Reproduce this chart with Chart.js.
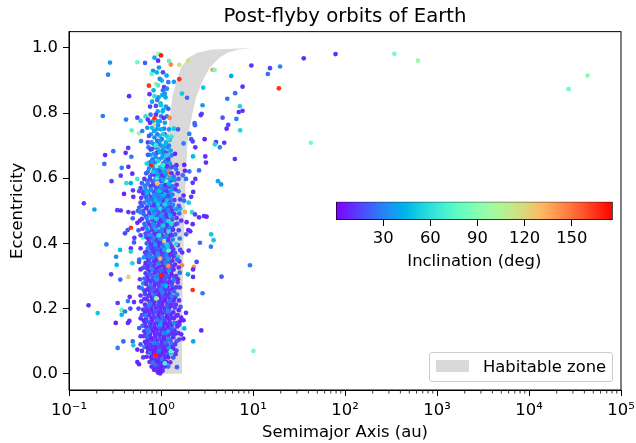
<!DOCTYPE html>
<html>
<head>
<meta charset="utf-8">
<style>
  body { margin: 0; background: #fff; font-family: "DejaVu Sans", sans-serif; color: #000; }
  #wrap { position: relative; width: 636px; height: 443px; overflow: hidden; }
  #orbits { position: absolute; left: 0; top: 0; }
  #cbar { position: absolute; left: 326px; top: 195px; }
  #legend { position: absolute; left: 429px; top: 352px; width: 182px; height: 28px; border: 1px solid #ccc; border-radius: 3px; background: rgba(255,255,255,0.8); }
  #legend i { position: absolute; left: 6px; top: 7px; width: 33px; height: 12px; background: #d9d9d9; }
  #legend span { position: absolute; left: 53px; top: 5px; font-size: 16.4px; line-height: 18px; white-space: nowrap; }
</style>
</head>
<body>
<div id="wrap">
  <canvas id="orbits" width="636" height="443"></canvas>
  <canvas id="cbar" width="300" height="77"></canvas>
  <div id="legend"><i></i><span>Habitable zone</span></div>
</div>
<script src="https://cdn.jsdelivr.net/npm/chart.js@4/dist/chart.umd.min.js"></script>
<script>
// Tick labels
const xTicks = [0.1, 1, 10, 100, 1000, 10000, 100000];
const xTickLabels = ["10⁻¹", "10⁰", "10¹", "10²", "10³", "10⁴", "10⁵"];
const yTicks = [0, 0.2, 0.4, 0.6, 0.8, 1.0];
const cbarTicks = [30, 60, 90, 120, 150];

// Habitable zone edges
const hzEcc = [0, 0.2, 0.4, 0.6, 0.7, 0.75, 0.8, 0.85, 0.9, 0.94, 0.97, 0.985, 0.995, 1.0];
const hzOuter = [1.69, 1.70, 1.76, 1.86, 1.93, 2.03, 2.2, 2.42, 2.85, 3.4, 4.3, 5.3, 7, 10];
const hzInner = [0.97, 0.98, 1.0, 1.05, 1.12, 1.2, 1.26, 1.33, 1.48, 1.65, 1.98, 2.5, 3.6, 10];

// Orbits as [semimajor axis, eccentricity, inclination]
const farOrbits = [[15.3,.938,15],[14.5,.92,25],[19.7,.943,32],[19.1,.876,165],[35.6,.968,10],[78.9,.981,10],[344,.982,85],[622,.961,100],[42.6,.709,85],[26900,.874,80],[43300,.915,88],[10.1,.07,85],[9.27,.333,30]];

const upperOutliers = [[.279,.955,35],[.266,.918,30],[.553,.956,80],[.67,.954,22],[.94,.982,100],[1,.977,170],[.93,.961,10],[1.22,.96,75],[1.28,.949,145],[1.58,.948,115],[1.98,.96,115],[3.64,.933,140],[3.83,.932,85],[9.6,.946,10],[5.8,.914,40],[7.7,.881,10],[6.4,.861,25],[5.25,.844,25],[2.88,.878,50],[1.58,.904,165],[1.38,.896,38],[1.69,.86,50],[1.92,.847,25],[.45,.852,10],[2.83,.824,35],[7.2,.821,55],[7.7,.807,12],[7,.803,12],[6.6,.782,32],[4.67,.786,20],[2.77,.798,20],[2.7,.794,10],[.233,.791,28],[.417,.78,28],[.553,.786,15],[.6,.776,55],[.48,.747,75],[.575,.738,110],[.626,.745,30],[2.32,.769,25],[2.34,.763,25],[5.38,.764,15],[5.17,.752,8],[7.25,.747,55],[1.53,.75,20],[2.03,.736,30],[2.13,.72,20],[2.21,.713,15],[1.76,.707,30],[2.36,.695,10],[2.98,.72,8],[3.96,.711,8],[3.86,.704,55],[4.87,.709,12],[4.36,.695,30],[.607,.714,30],[.44,.693,15],[.303,.683,25],[.413,.678,10],[.247,.671,8]];

const midLeftOutliers = [[.476,.666,28],[.242,.644,25],[.374,.632,30],[.442,.635,10],[.488,.614,10],[.365,.608,15],[.29,.591,15],[.42,.585,60],[.553,.598,65],[.47,.585,42],[.396,.552,8],[.496,.563,15],[.5,.543,10],[.145,.523,15],[.189,.504,40],[.335,.502,15],[.365,.501,10],[.442,.496,12],[.5,.494,10],[.493,.477,25],[.553,.463,10],[.47,.448,165],[.434,.441,20],[.406,.431,15],[.513,.417,12],[.509,.403,20],[.632,.418,75],[.255,.397,28],[.359,.38,48],[.47,.385,10],[.47,.375,55],[.325,.359,32],[.488,.339,55],[.33,.334,45],[.577,.343,15],[.287,.305,12]];

const midRightOutliers = [[2.23,.667,45],[3.03,.667,10],[3.08,.648,10],[6.35,.659,10],[1.79,.641,8],[2.03,.621,25],[2.59,.624,25],[1.82,.623,8],[1.72,.609,25],[1.87,.598,25],[2.36,.598,12],[2.21,.586,12],[4.16,.591,40],[4.5,.581,35],[2.24,.558,10],[1.76,.547,10],[2.13,.543,12],[1.78,.531,25],[2,.525,52],[1.61,.507,45],[1.82,.497,135],[1.58,.492,25],[2.17,.496,58],[2.34,.489,15],[2.59,.48,10],[2.93,.484,10],[3.13,.482,8],[1.9,.465,10],[2.21,.459,10],[1.5,.461,20],[1.98,.441,10],[2.08,.437,10],[1.88,.428,20],[3.51,.428,50],[3.73,.41,50],[2.65,.402,25],[3.49,.39,30],[2,.378,12],[1.7,.372,10],[1.53,.358,55],[2.44,.343,15],[2.28,.328,140],[1.69,.333,145],[2.23,.32,10],[1.96,.305,40]];

const lowOutliers = [[.442,.297,120],[.361,.289,25],[2.21,.257,165],[2.83,.247,28],[4.55,.298,20],[2.23,.297,10],[.163,.21,10],[.205,.186,50],[.338,.217,12],[.457,.236,10],[.437,.223,30],[.374,.195,75],[.374,.181,45],[.406,.191,28],[.464,.2,18],[.509,.22,10],[.322,.156,8],[.437,.156,12],[.453,.162,10],[.39,.099,22],[.338,.079,30],[.493,.099,25],[.5,.087,52],[.553,.074,8],[.553,.036,8],[.577,.029,8],[2.74,.133,8],[2.24,.099,40],[1.49,.02,22],[1.87,.187,10],[1.76,.164,10],[1.79,.139,45],[1.66,.121,10],[1.75,.108,10],[1.47,.071,15]];

const bandTop = [[.82,.93,35],[.9,.925,45],[.79,.92,75],[.88,.89,110],[.97,.905,30],[1.05,.925,15],[1.15,.915,40],[1.2,.895,28],[1.08,.88,12],[1.16,.875,30],[.74,.884,165],[.93,.885,70],[1.05,.87,25],[.75,.858,12],[.85,.852,60],[.94,.848,38],[1.03,.855,45],[1.12,.848,42],[.99,.83,48],[1.13,.82,40],[.76,.82,15],[.88,.822,14],[1,.824,50],[1.2,.813,22],[.88,.795,12],[1,.79,30],[.68,.79,60],[.72,.78,12],[1.24,.785,145],[.85,.784,165],[1.07,.785,10],[.76,.77,10],[.86,.765,118],[.93,.762,35],[1,.75,45],[.84,.745,42],[1.38,.752,50],[1.1,.77,38],[.74,.73,20],[.72,.71,15],[.91,.735,28],[1.05,.735,55],[1.16,.728,55],[1.3,.728,62],[1.02,.72,25],[.79,.71,35],[.95,.705,30],[1.13,.71,45],[.88,.695,25],[1.22,.7,28],[1.06,.692,38],[.77,.688,14],[.97,.68,42],[.84,.675,35],[1.15,.678,20]];

const band6070 = [[.72,.672,22],[.88,.665,35],[1.02,.663,40],[1.2,.66,12],[1.3,.67,30],[1.42,.675,8],[.8,.655,25],[.93,.652,55],[1.1,.65,30],[1.25,.645,40],[.7,.645,55],[.78,.64,170],[.9,.638,80],[1,.635,45],[1.16,.637,12],[1.33,.635,18],[1.47,.64,10],[.74,.63,35],[.84,.625,30],[.97,.622,20],[1.08,.625,50],[1.2,.622,150],[1.3,.615,10],[1.46,.628,25],[.69,.615,20],[.8,.612,15],[.92,.61,40],[1.03,.608,12],[1.13,.612,35],[1.24,.605,148],[1.38,.605,28],[1.52,.615,10]];

const band5060 = [[.66,.598,12],[.76,.597,18],[.86,.595,30],[.96,.598,25],[1.06,.594,40],[1.16,.59,80],[1.27,.592,20],[1.4,.594,35],[1.55,.598,22],[.62,.585,25],[.72,.583,28],[.82,.58,14],[.91,.585,130],[1,.577,35],[1.11,.579,10],[1.22,.582,45],[1.34,.575,28],[1.48,.58,10],[.6,.57,15],[.68,.568,35],[.78,.565,30],[.88,.57,20],[.95,.562,42],[1.05,.565,25],[1.15,.56,12],[1.28,.563,40],[1.43,.566,12],[.64,.553,10],[.73,.551,22],[.84,.548,35],[.92,.552,10],[1.01,.546,38],[1.1,.55,45],[1.2,.545,15],[1.33,.55,30],[.61,.54,12],[.7,.537,12],[.8,.535,25],[.89,.53,45],[.97,.536,30],[1.07,.53,12],[1.17,.532,48],[1.26,.528,25],[1.4,.533,14],[.66,.525,28],[.75,.522,35],[.85,.518,12],[.93,.52,50],[1.03,.515,18],[1.13,.518,38],[1.23,.512,10],[1.35,.518,30],[.58,.51,22],[.69,.508,10],[.79,.505,40],[.88,.503,28],[.98,.507,55],[1.08,.5,15]];

const band4050 = [[1.2,.503,30],[1.32,.5,12],[1.46,.505,35],[.6,.495,30],[.65,.49,25],[.75,.492,12],[.84,.489,40],[.94,.492,20],[1.03,.485,35],[1.14,.488,12],[1.26,.484,45],[1.4,.49,10],[.62,.475,12],[.7,.477,30],[.8,.472,18],[.89,.475,50],[.99,.47,10],[1.09,.472,28],[1.2,.468,55],[1.33,.473,20],[1.48,.478,12],[.66,.46,25],[.75,.458,10],[.84,.455,35],[.94,.459,15],[1.04,.453,38],[1.15,.456,10],[1.27,.452,28],[1.42,.458,15],[.63,.445,10],[.71,.443,32],[.8,.44,14],[.89,.443,42],[.98,.438,22],[1.09,.44,12],[1.21,.436,62],[1.35,.442,12],[.68,.43,18],[.76,.426,35],[.85,.428,10],[.94,.423,48],[1.03,.425,15],[1.14,.421,30],[1.27,.425,12],[1.43,.428,25],[.72,.415,10],[.81,.412,28],[.9,.41,14],[.99,.414,35],[1.09,.407,120],[1.2,.41,12],[1.34,.412,30],[.7,.4,22],[.78,.397,12],[.87,.396,40],[.96,.4,10],[1.05,.393,25],[1.16,.396,55],[1.28,.39,12],[1.46,.398,58]];

const band3040 = [[.72,.385,30],[.81,.382,12],[.9,.385,22],[.99,.378,10],[1.09,.38,42],[1.21,.377,75],[1.36,.382,12],[.67,.372,14],[.76,.368,25],[.85,.37,10],[.94,.365,38],[1.03,.367,14],[1.14,.363,30],[1.27,.367,10],[1.42,.37,20],[.65,.357,35],[.72,.353,12],[.8,.355,28],[.89,.35,10],[.98,.353,135],[1.08,.348,18],[1.2,.352,40],[1.33,.347,12],[1.5,.35,25],[.68,.34,10],[.76,.338,20],[.85,.335,12],[.94,.338,32],[1.04,.332,10],[1.15,.335,25],[1.28,.33,15],[1.42,.335,10],[.64,.325,18],[.71,.322,12],[.8,.32,30],[.9,.323,10],[.99,.318,22],[1.1,.32,12],[1.22,.316,40],[1.37,.32,10],[1.56,.326,10],[.68,.308,12],[.76,.305,22],[.85,.308,10],[.95,.303,28],[1.05,.305,12],[1.17,.3,20],[1.3,.305,8],[1.46,.3,12]];

const band2030 = [[.66,.292,22],[.73,.29,10],[.81,.287,15],[.9,.29,35],[1,.285,10],[1.11,.288,20],[1.24,.283,12],[1.38,.288,30],[1.53,.29,10],[.64,.277,35],[.69,.275,12],[.77,.272,25],[.86,.274,10],[.95,.27,14],[1.05,.272,28],[1.17,.268,10],[1.31,.272,18],[1.46,.265,12],[.62,.262,28],[.71,.258,10],[.8,.26,20],[.9,.255,12],[1,.258,30],[1.11,.253,10],[1.24,.256,14],[1.39,.252,22],[.67,.245,14],[.75,.243,12],[.84,.24,28],[.94,.243,8],[1.05,.238,18],[1.17,.241,10],[1.31,.238,30],[1.5,.243,30],[.7,.228,12],[.79,.225,10],[.88,.228,20],[.98,.223,12],[1.1,.226,8],[1.23,.222,25],[1.38,.226,10],[.61,.222,12],[.67,.212,10],[.74,.21,30],[.83,.213,8],[.93,.208,15],[1.03,.21,10],[1.15,.206,22],[1.29,.21,10],[1.45,.212,12]];

const band1020 = [[.64,.197,12],[.71,.194,10],[.79,.197,8],[.88,.192,20],[.98,.195,10],[1.09,.19,14],[1.22,.193,30],[1.36,.188,10],[1.56,.195,8],[.62,.18,18],[.68,.178,30],[.75,.18,8],[.84,.175,14],[.94,.178,10],[1.04,.173,24],[1.16,.176,8],[1.3,.172,12],[1.47,.178,10],[1.66,.172,8],[.65,.163,8],[.72,.16,22],[.8,.162,10],[.9,.158,12],[1,.16,28],[1.11,.156,8],[1.24,.159,10],[1.39,.155,30],[1.6,.16,8],[.63,.147,25],[.69,.144,10],[.77,.146,14],[.86,.141,8],[.96,.144,20],[1.07,.14,10],[1.19,.143,8],[1.33,.139,22],[1.5,.145,10],[.66,.13,10],[.73,.127,30],[.82,.13,8],[.92,.125,12],[1.02,.128,10],[1.14,.124,25],[1.27,.127,8],[1.43,.123,12],[.64,.115,12],[.7,.113,22],[.78,.11,8],[.87,.113,10],[.97,.108,18],[1.08,.111,8],[1.21,.107,30],[1.36,.112,10]];

const bandBottom = [[.67,.098,8],[.74,.095,14],[.83,.098,8],[.92,.093,22],[1.03,.096,10],[1.15,.091,8],[1.29,.095,30],[1.42,.09,12],[.66,.082,30],[.71,.08,8],[.79,.083,12],[.88,.078,8],[.98,.081,14],[1.09,.076,10],[1.22,.08,35],[1.36,.077,8],[.72,.066,10],[.76,.064,25],[.84,.067,8],[.94,.062,12],[1.04,.065,8],[1.16,.06,18],[1.28,.064,50],[.7,.052,10],[.78,.05,8],[.87,.048,14],[.97,.051,8],[1.08,.046,10],[1.2,.05,8],[.75,.036,12],[.82,.034,30],[.9,.037,8],[1,.032,10],[1.14,.036,8],[.79,.022,8],[.86,.02,10],[.93,.024,14],[1.02,.019,8],[1.1,.022,10],[.84,.012,8],[.9,.01,12],[.96,.014,8],[1.04,.009,10],[.93,.003,8],[.98,.001,10],[.97,.006,6]];

// Second pass through the crowded column, filling between the dots above
const fillUpper = [[.77,.795,28],[.92,.805,38],[1.04,.805,45],[.81,.775,42],[.97,.775,35],[1.16,.79,30],[.71,.755,35],[.8,.755,48],[.9,.75,40],[1.08,.752,28],[1.22,.75,35],[.78,.735,40],[.85,.725,30],[.97,.73,52],[1.1,.735,18],[1.24,.718,42],[.73,.695,30],[.83,.705,45],[.91,.715,22],[1,.7,35],[1.09,.7,48],[1.18,.695,32],[.8,.69,18],[.93,.688,50],[1.01,.683,30],[1.1,.68,25],[1.27,.685,40],[.76,.672,40],[.9,.678,15],[1.05,.672,35],[.82,.66,42],[.96,.658,30],[1.14,.66,38],[.75,.648,28],[.86,.648,20],[1.05,.645,25],[1.21,.65,32],[.82,.635,38],[.94,.63,28],[1.12,.628,18],[1.26,.632,30],[.72,.62,30],[.88,.622,45],[1.02,.62,32],[1.16,.618,42],[.76,.605,25],[.87,.608,12],[.98,.61,30],[1.09,.605,22],[1.31,.6,38]];

const fillMid = [[.71,.592,30],[.81,.59,22],[.91,.59,35],[1.01,.59,15],[1.11,.592,48],[1.21,.595,28],[.67,.577,28],[.77,.575,12],[.86,.577,38],[.96,.572,18],[1.06,.575,42],[1.17,.572,22],[1.28,.574,12],[.64,.56,22],[.73,.56,40],[.83,.558,18],[.91,.56,32],[1,.557,12],[1.1,.56,35],[1.22,.555,30],[.68,.545,28],[.78,.543,14],[.88,.54,40],[.95,.544,22],[1.05,.54,30],[1.15,.54,18],[1.27,.54,38],[.73,.53,18],[.83,.525,30],[.92,.528,14],[1.01,.527,45],[1.11,.525,22],[1.21,.522,35],[.62,.515,18],[.71,.514,25],[.8,.513,14],[.89,.51,35],[.98,.516,12],[1.07,.51,32],[1.18,.508,22],[1.29,.51,12],[.64,.5,15],[.74,.498,28],[.84,.498,18],[.93,.5,12],[1.02,.497,32],[1.12,.498,20],[1.26,.495,35],[.69,.483,14],[.79,.482,28],[.89,.483,12],[.98,.48,30],[1.08,.48,18],[1.19,.48,12],[1.32,.485,28],[.72,.467,18],[.84,.465,10],[.94,.467,28],[1.04,.465,12],[1.13,.463,35],[1.23,.46,14],[.68,.452,30],[.79,.45,20],[.89,.45,12],[.99,.452,32],[1.09,.448,15],[1.2,.447,25],[1.31,.45,10],[.73,.435,10],[.84,.436,25],[.93,.433,12],[1.03,.437,30],[1.15,.433,16],[1.25,.435,10],[.69,.42,25],[.78,.418,12],[.88,.42,30],[.97,.42,14],[1.08,.418,22],[1.2,.42,10],[1.33,.425,18],[.74,.405,14],[.84,.403,28],[.93,.404,12],[1.02,.405,20],[1.13,.403,10],[1.26,.4,24],[.75,.388,10],[.84,.39,18],[.94,.39,12],[1.03,.386,30],[1.14,.388,10],[1.31,.39,16]];

const fillLow = [[.7,.375,12],[.79,.376,22],[.88,.377,12],[.97,.372,16],[1.08,.372,22],[1.2,.37,12],[1.34,.373,10],[.69,.362,20],[.77,.36,12],[.87,.36,25],[.98,.36,10],[1.09,.357,20],[1.22,.358,14],[1.37,.36,10],[.74,.345,14],[.84,.345,10],[.93,.345,24],[1.03,.343,12],[1.14,.344,10],[1.26,.342,20],[.67,.33,25],[.73,.33,12],[.82,.328,18],[.95,.328,10],[1.09,.328,15],[1.21,.326,10],[1.34,.328,20],[.75,.315,10],[.85,.316,16],[.94,.313,12],[1.05,.314,24],[1.15,.312,10],[1.29,.315,12],[.71,.298,10],[.81,.297,20],[.9,.298,12],[1,.296,8],[1.11,.296,18],[1.23,.295,10],[1.4,.296,14],[.69,.282,16],[.77,.282,10],[.85,.282,22],[.95,.28,12],[1.06,.28,8],[1.18,.278,14],[1.32,.28,10],[.74,.265,16],[.84,.265,12],[.95,.262,20],[1.06,.262,10],[1.19,.262,22],[1.33,.26,8],[.66,.255,12],[.76,.252,24],[.85,.25,10],[.97,.25,14],[1.1,.247,8],[1.24,.246,12],[.72,.237,20],[.8,.235,8],[.89,.236,12],[1,.235,10],[1.11,.233,16],[1.24,.232,10],[1.42,.235,12],[.66,.23,12],[.75,.22,16],[.84,.22,10],[.94,.218,14],[1.04,.22,8],[1.17,.215,12],[1.33,.218,18],[.7,.204,16],[.78,.204,10],[.88,.202,8],[.98,.205,14],[1.09,.201,10],[1.23,.202,8],[1.41,.203,14],[.67,.188,10],[.75,.188,16],[.83,.187,10],[.93,.186,8],[1.03,.185,12],[1.15,.186,8],[1.28,.183,12],[.69,.17,12],[.79,.17,8],[.89,.168,16],[.99,.17,8],[1.1,.167,14],[1.23,.168,8],[1.38,.17,10],[.67,.155,12],[.76,.153,8],[.85,.152,12],[.95,.152,8],[1.05,.15,10],[1.17,.151,14],[1.31,.15,8],[1.46,.155,12]];

const fillBottom = [[.71,.137,8],[.8,.137,12],[.9,.135,8],[1,.136,14],[1.12,.133,8],[1.25,.135,10],[1.4,.133,8],[.68,.122,14],[.76,.12,8],[.86,.12,10],[.97,.118,8],[1.08,.119,12],[1.2,.117,8],[1.34,.119,14],[.72,.103,8],[.81,.104,12],[.91,.102,8],[1.01,.104,10],[1.12,.101,8],[1.26,.103,12],[.69,.088,12],[.77,.088,8],[.86,.087,10],[.95,.086,8],[1.05,.085,12],[1.17,.085,8],[1.3,.083,10],[.74,.073,8],[.82,.073,10],[.91,.071,8],[1.01,.072,14],[1.12,.07,8],[1.23,.071,10],[.8,.058,10],[.89,.058,8],[.99,.058,12],[1.1,.055,8],[.84,.041,12],[.94,.042,8],[1.05,.04,10],[.8,.042,8],[.89,.028,10],[.97,.027,8],[1.06,.028,12],[.95,.018,10],[1,.012,8]];

// Loose dots along both sides of the column
const bandEdges = [[.58,.56,18],[.6,.525,14],[.56,.5,25],[.59,.47,10],[.57,.44,20],[.6,.425,16],[.6,.385,12],[.58,.35,22],[.6,.32,10],[.59,.29,14],[.58,.265,20],[.6,.24,12],[.57,.2,16],[.6,.17,10],[.58,.14,22],[.6,.115,12],[.6,.09,18],[.62,.07,10],[.64,.05,14],[1.55,.56,30],[1.62,.535,14],[1.56,.515,22],[1.66,.47,10],[1.56,.44,14],[1.6,.415,28],[1.52,.395,12],[1.62,.38,18],[1.58,.345,10],[1.6,.31,24],[1.52,.28,12],[1.6,.265,16],[1.57,.225,10],[1.63,.205,20],[1.52,.18,12],[1.58,.15,18],[1.54,.125,10],[1.58,.105,14],[1.48,.1,22],[1.44,.06,12],[1.36,.05,20],[1.26,.035,10],[1.2,.022,25]];

// Bluer dots scattered over the column, drawn after the rest
const bandBlues = [[.85,.97,40],[.95,.94,35],[1.02,.9,42],[.83,.87,45],[1.1,.86,35],[.91,.84,30],[.8,.835,40],[1.06,.81,45],[.92,.775,42],[.98,.715,38],[.8,.65,35],[1.1,.62,40],[.9,.55,32],[.72,.535,30],[1.18,.52,35],[.82,.46,32],[1.02,.44,30],[.92,.37,30],[.74,.36,32],[1.12,.34,30],[.87,.3,28],[1.04,.25,28],[.77,.215,30],[1.18,.19,28],[.91,.165,28],[.72,.135,28],[1.06,.125,30],[.84,.095,28],[1.12,.095,26],[.95,.07,26],[.86,.028,24],[1.02,.045,26]];

const bandAccents = [[.88,.057,170],[1.1,.032,70],[1,.303,170],[.89,.231,100],[1.2,.33,145],[1.28,.069,75],[.95,.425,60],[1.1,.52,55],[.9,.6,60],[1.05,.64,65],[.88,.7,65],[1.06,.455,52],[1.18,.39,50],[1.13,.27,45],[.98,.15,40],[1.2,.13,42],[.82,.62,50],[1.15,.67,55],[.96,.56,48],[1.25,.6,45],[.79,.48,50],[1.3,.46,58],[.7,.555,45],[1.2,.72,60]];

const orbitGroups = [farOrbits, upperOutliers, midLeftOutliers, midRightOutliers, lowOutliers, bandEdges, fillUpper, fillMid, fillLow, fillBottom, bandTop, band6070, band5060, band4050, band3040, band2030, band1020, bandBottom, bandBlues, bandAccents];

// matplotlib's rainbow colormap
const incMax = 176;
function rainbow(inc) {
    const t = Math.min(Math.max(inc / incMax, 0), 1);
    const r = Math.min(Math.abs(2 * t - 0.5), 1) * 255;
    const g = Math.sin(Math.PI * t) * 255;
    const b = Math.cos(Math.PI * t / 2) * 255;
    return `rgb(${r | 0},${g | 0},${b | 0})`;
}

const baseFont = { family: '"DejaVu Sans"', size: 16.4 };

// Grey zone under the dots, minor ticks and the frame on top
const orbitExtras = {
    id: "orbitExtras",
    beforeDatasetsDraw(chart) {
        const { ctx, scales: { x, y } } = chart;
        ctx.save();
        ctx.beginPath();
        hzEcc.forEach((e, i) => {
            const px = x.getPixelForValue(hzOuter[i]);
            if (i === 0) ctx.moveTo(px, y.getPixelForValue(e));
            else ctx.lineTo(px, y.getPixelForValue(e));
        });
        for (let i = hzEcc.length - 1; i >= 0; i--) {
            ctx.lineTo(x.getPixelForValue(hzInner[i]), y.getPixelForValue(hzEcc[i]));
        }
        ctx.closePath();
        ctx.fillStyle = "#d9d9d9";
        ctx.fill();
        ctx.restore();
    },
    afterDraw(chart) {
        const { ctx, chartArea, scales: { x } } = chart;
        ctx.save();
        ctx.strokeStyle = "#000";
        ctx.lineWidth = 1;
        ctx.strokeRect(chartArea.left, chartArea.top, chartArea.right - chartArea.left, chartArea.bottom - chartArea.top);
        ctx.lineWidth = 0.8;
        ctx.beginPath();
        xTicks.slice(0, -1).forEach((decade) => {
            for (let k = 2; k < 10; k++) {
                const px = x.getPixelForValue(decade * k);
                ctx.moveTo(px, chartArea.bottom);
                ctx.lineTo(px, chartArea.bottom + 3.5);
            }
        });
        ctx.stroke();
        ctx.restore();
    },
};

new Chart(document.getElementById("orbits"), {
    type: "scatter",
    data: {
        datasets: [{
            label: "Orbits",
            data: orbitGroups.flat().map((row) => ({ x: row[0], y: row[1], inc: row[2] })),
            pointRadius: 2.35,
            pointBorderWidth: 0,
            pointBackgroundColor: (c) => rainbow(c.raw ? c.raw.inc : 0),
        }],
    },
    options: {
        responsive: false,
        animation: false,
        layout: { padding: { left: 0, right: 15, top: 0, bottom: 0 } },
        plugins: {
            legend: { display: false },
            tooltip: { enabled: false },
            title: {
                display: true,
                fullSize: false,
                text: "Post-flyby orbits of Earth",
                color: "#000",
                font: { family: baseFont.family, size: 19.7, weight: "normal" },
                padding: { top: 5, bottom: 3 },
            },
        },
        scales: {
            x: {
                type: "logarithmic",
                min: 0.1,
                max: 100000,
                afterBuildTicks: (scale) => { scale.ticks = xTicks.map((value) => ({ value })); },
                afterFit: (scale) => { scale.height = 53; scale.paddingRight = 0; },
                ticks: {
                    color: "#000",
                    font: baseFont,
                    maxRotation: 0,
                    autoSkip: false,
                    padding: 5,
                    callback: (value) => xTickLabels[xTicks.indexOf(value)],
                },
                grid: { display: true, drawOnChartArea: false, tickLength: 6, tickColor: "#000", tickWidth: 1 },
                border: { color: "#000" },
                title: { display: true, text: "Semimajor Axis (au)", color: "#000", font: baseFont, padding: 0 },
            },
            y: {
                min: -0.05,
                max: 1.05,
                afterBuildTicks: (scale) => { scale.ticks = yTicks.map((value) => ({ value })); },
                afterFit: (scale) => { scale.width = 69; },
                ticks: {
                    color: "#000",
                    font: baseFont,
                    padding: 5,
                    callback: (value) => value.toFixed(1),
                },
                grid: { display: true, drawOnChartArea: false, tickLength: 6, tickColor: "#000", tickWidth: 1 },
                border: { color: "#000" },
                title: { display: true, text: "Eccentricity", color: "#000", font: baseFont, padding: { top: 8, bottom: 0 } },
            },
        },
    },
    plugins: [orbitExtras],
});

// ========================= Colorbar ========================= //
function cbarGradient(c) {
    const area = c.chart.chartArea;
    if (!area) return "#000";
    const grad = c.chart.ctx.createLinearGradient(area.left, 0, area.right, 0);
    for (let i = 0; i <= 32; i++) grad.addColorStop(i / 32, rainbow(incMax * i / 32));
    return grad;
}

new Chart(document.getElementById("cbar"), {
    type: "bar",
    data: {
        labels: ["inc"],
        datasets: [{
            data: [[0, incMax]],
            backgroundColor: cbarGradient,
            borderColor: "#000",
            borderWidth: 1,
            borderSkipped: false,
            barPercentage: 1,
            categoryPercentage: 1,
        }],
    },
    options: {
        indexAxis: "y",
        responsive: false,
        animation: false,
        layout: { padding: { left: 10, right: 13.3, top: 6.7, bottom: 0 } },
        plugins: { legend: { display: false }, tooltip: { enabled: false } },
        scales: {
            y: { display: false },
            x: {
                type: "linear",
                min: 0,
                max: incMax,
                afterBuildTicks: (scale) => { scale.ticks = cbarTicks.map((value) => ({ value })); },
                afterFit: (scale) => { scale.height = 52; },
                ticks: { color: "#000", font: baseFont, padding: 3, maxRotation: 0 },
                grid: { display: true, drawOnChartArea: false, tickLength: 6, tickColor: "#000", tickWidth: 1 },
                border: { display: false },
                title: { display: true, text: "Inclination (deg)", color: "#000", font: baseFont, padding: 0 },
            },
        },
    },
});
</script>
</body>
</html>
